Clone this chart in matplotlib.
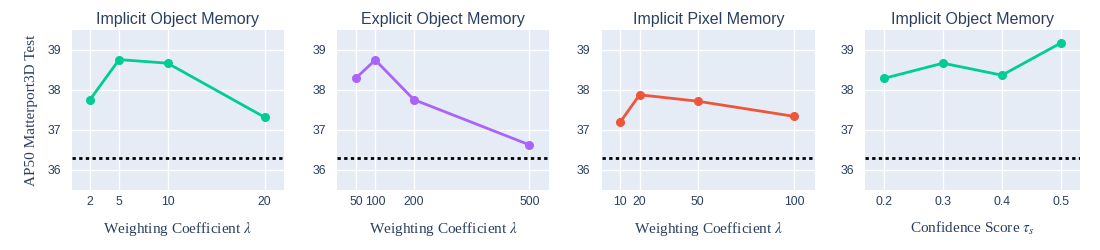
import matplotlib.pyplot as plt
import matplotlib as mpl

mpl.rcParams['mathtext.fontset'] = 'stix'

titles = ['Implicit Object Memory', 'Explicit Object Memory',
          'Implicit Pixel Memory', 'Implicit Object Memory']
x_labels = [r'Weighting Coefficient $\lambda$', r'Weighting Coefficient $\lambda$',
            r'Weighting Coefficient $\lambda$', r'Confidence Score $\tau_s$']

x1 = [2, 5, 10, 20]
y1 = [37.76, 38.76, 38.67, 37.32]
x2 = [50, 100, 200, 500]
y2 = [38.30, 38.75, 37.76, 36.63]
x3 = [10, 20, 50, 100]
y3 = [37.20, 37.88, 37.72, 37.34]
x4 = [0.2, 0.3, 0.4, 0.5]
y4 = [38.29, 38.67, 38.37, 39.18]
baseline = 36.3

xs = [x1, x2, x3, x4]
ys = [y1, y2, y3, y4]
colors = ['#00cc96', '#ab63fa', '#EF553B', '#00cc96']
xlims = [(0.14, 22.0), (1.4, 552), (0.4, 110.7), (0.168, 0.532)]
tick_text = [['2', '5', '10', '20'], ['50', '100', '200', '500'],
             ['10', '20', '50', '100'], ['0.2', '0.3', '0.4', '0.5']]
lefts = [72, 337.3, 601.7, 865]
widths = [212, 212, 213.3, 215]

txt = '#2a3f5f'
fig = plt.figure(figsize=(11, 2.5), dpi=100)

for i in range(4):
    ax = fig.add_axes([lefts[i] / 1100, 60 / 250, widths[i] / 1100, 160 / 250])
    ax.set_facecolor('#E5ECF6')
    for s in ax.spines.values():
        s.set_visible(False)
    ax.grid(True, color='white', linewidth=1)
    ax.set_axisbelow(True)
    ax.axhline(baseline, color='black', linestyle=(0, (1.2, 1.2)), linewidth=2, zorder=2)
    ax.plot(xs[i], ys[i], color=colors[i], linewidth=2, marker='o', markersize=5.5, zorder=3)
    ax.set_xlim(*xlims[i])
    ax.set_ylim(35.5, 39.5)
    ax.set_xticks(xs[i])
    ax.set_xticklabels(tick_text[i])
    ax.set_yticks([36, 37, 38, 39])
    ax.tick_params(length=0, labelsize=8.8, labelcolor=txt, pad=4)
    ax.tick_params(axis='y', pad=8)
    for lab in ax.get_xticklabels() + ax.get_yticklabels():
        lab.set_family('Liberation Sans')
    ax.set_title(titles[i], fontsize=11.5, color=txt, family='Liberation Sans', pad=4)
    ax.set_xlabel(x_labels[i], fontsize=11, color=txt, family='Liberation Serif', labelpad=9)
    if i == 0:
        ax.set_ylabel('AP50 Matterport3D Test', fontsize=11, color=txt,
                      family='Liberation Serif', labelpad=7)

fig.savefig('out.png', dpi=100)
